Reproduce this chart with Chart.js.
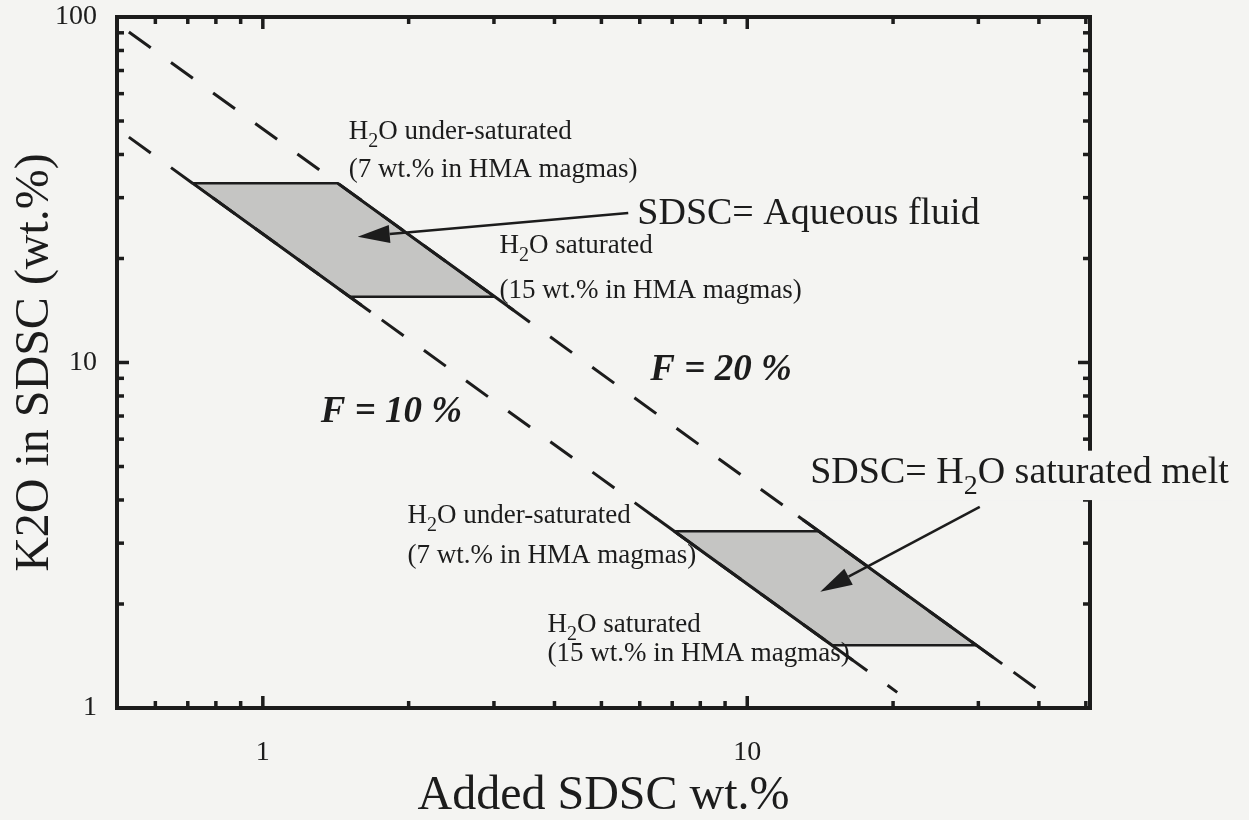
<!DOCTYPE html>
<html>
<head>
<meta charset="utf-8">
<script src="https://cdn.jsdelivr.net/npm/chart.js@4.4.1/dist/chart.umd.min.js"></script>
<style>
  html, body { margin: 0; padding: 0; background: #f4f4f2; }
  canvas { display: block; }
</style>
</head>
<body>
<canvas id="chart" width="1249" height="820"></canvas>
<script>
// axis ticks (log-log)
const xTickMarks = [0.6, 0.7, 0.8, 0.9, 1, 2, 3, 4, 5, 6, 7, 8, 9, 10, 20, 30, 40, 50];
const yTickMarks = [2, 3, 4, 5, 6, 7, 8, 9, 10, 20, 30, 40, 50, 60, 70, 80, 90];
const xTickLabels = [1, 10];
const yTickLabels = [1, 10, 100];

// F = 20 % and F = 10 % lines (end points)
const f20X = [0.529, 41.6];
const f20Y = [90.5, 1.08];
const f10X = [0.529, 20.4];
const f10Y = [44.9, 1.11];

// shaded fields: corners TL, TR, BR, BL
const aqueousX = [0.717, 1.428, 3.01, 1.511];
const aqueousY = [33.0, 33.0, 15.5, 15.5];
const meltX = [7.06, 14.04, 29.7, 14.96];
const meltY = [3.25, 3.25, 1.52, 1.52];

// solid sides of the fields (they run a bit past the corners)
const aqLeftX = [0.717, 1.670], aqLeftY = [33.0, 14.0];
const aqRightX = [1.428, 3.293], aqRightY = [33.0, 14.16];
const meltLeftX = [6.46, 16.54], meltLeftY = [3.56, 1.372];
const meltRightX = [12.74, 33.6], meltRightY = [3.59, 1.342];

const ink = '#1c1c1c';
const paper = '#f4f4f2';
const serif = "'Liberation Serif', 'Times New Roman', Times, serif";

const pts = (xs, ys) => xs.map((v, i) => ({ x: v, y: ys[i] }));
const closed = (xs, ys) => { const p = pts(xs, ys); p.push(p[0]); return p; };

function dashed(xs, ys) {
  return { data: pts(xs, ys), borderColor: ink, borderWidth: 3, borderDash: [27, 25], pointRadius: 0, fill: false, order: 2 };
}
function solid(xs, ys) {
  return { data: pts(xs, ys), borderColor: ink, borderWidth: 3, pointRadius: 0, fill: false, order: 1 };
}
function field(xs, ys) {
  return { data: closed(xs, ys), borderColor: ink, borderWidth: 2.5, backgroundColor: '#c5c5c3', pointRadius: 0, fill: 'shape', order: 3 };
}

// annotation text, anchored in data units (left edge, baseline)
const notes = [
  { parts: [['H'], ['2', 1], ['O under-saturated']], x: 1.504, y: 44.4, size: 27 },
  { parts: [['(7 wt.% in HMA magmas)']], x: 1.504, y: 34.4, size: 27 },
  { parts: [['H'], ['2', 1], ['O saturated']], x: 3.08, y: 20.7, size: 27 },
  { parts: [['(15 wt.% in HMA magmas)']], x: 3.08, y: 15.4, size: 27 },
  { parts: [['SDSC= Aqueous fluid']], x: 5.93, y: 25.2, size: 38 },
  { parts: [['SDSC= H'], ['2', 1], ['O saturated melt']], x: 13.49, y: 4.48, size: 38, box: true },
  { parts: [['H'], ['2', 1], ['O under-saturated']], x: 1.99, y: 3.43, size: 27 },
  { parts: [['(7 wt.% in HMA magmas)']], x: 1.99, y: 2.63, size: 27 },
  { parts: [['H'], ['2', 1], ['O saturated']], x: 3.87, y: 1.66, size: 27 },
  { parts: [['(15 wt.% in HMA magmas)']], x: 3.87, y: 1.37, size: 27 },
  { parts: [['F = 20 %']], x: 6.31, y: 8.9, size: 37, bold: true },
  { parts: [['F = 10 %']], x: 1.317, y: 6.73, size: 37, bold: true }
];

const arrows = [
  { from: [5.68, 27.1], to: [1.57, 23.1] },
  { from: [30.2, 3.82], to: [14.15, 2.17] }
];

const isDecade = v => Math.abs(Math.log10(v) - Math.round(Math.log10(v))) < 1e-9;

function setFont(ctx, size, sub, bold) {
  const fs = sub ? Math.round(size * 0.74) : size;
  ctx.font = (bold ? 'italic bold ' : '') + fs + 'px ' + serif;
}

function drawParts(ctx, parts, x, y, size, bold) {
  let cx = x;
  parts.forEach(([t, sub]) => {
    setFont(ctx, size, sub, bold);
    ctx.fillText(t, cx, sub ? y + size * 0.3 : y);
    cx += ctx.measureText(t).width;
  });
}

function measureParts(ctx, parts, size, bold) {
  let w = 0;
  parts.forEach(([t, sub]) => {
    setFont(ctx, size, sub, bold);
    w += ctx.measureText(t).width;
  });
  return w;
}

function drawArrow(ctx, x0, y0, x1, y1) {
  const ang = Math.atan2(y1 - y0, x1 - x0);
  const head = 32, half = 9;
  const bx = x1 - head * Math.cos(ang), by = y1 - head * Math.sin(ang);
  ctx.beginPath();
  ctx.moveTo(x0, y0);
  ctx.lineTo(bx, by);
  ctx.stroke();
  ctx.beginPath();
  ctx.moveTo(x1, y1);
  ctx.lineTo(bx - half * Math.sin(ang), by + half * Math.cos(ang));
  ctx.lineTo(bx + half * Math.sin(ang), by - half * Math.cos(ang));
  ctx.closePath();
  ctx.fill();
}

const frameAndNotes = {
  id: 'frameAndNotes',
  afterDatasetsDraw(chart) {
    const { ctx, chartArea: a, scales: { x, y } } = chart;
    ctx.save();
    ctx.strokeStyle = ink;
    ctx.fillStyle = ink;
    ctx.lineCap = 'butt';

    // frame
    ctx.lineWidth = 4;
    ctx.strokeRect(a.left, a.top, a.right - a.left, a.bottom - a.top);

    // inward ticks on all four sides
    ctx.lineWidth = 3.5;
    const seg = (x0, y0, x1, y1) => { ctx.beginPath(); ctx.moveTo(x0, y0); ctx.lineTo(x1, y1); ctx.stroke(); };
    xTickMarks.forEach(v => {
      const px = x.getPixelForValue(v);
      if (px <= a.left + 2 || px >= a.right - 2) return;
      const len = isDecade(v) ? 12 : 7;
      seg(px, a.bottom, px, a.bottom - len);
      seg(px, a.top, px, a.top + len);
    });
    yTickMarks.forEach(v => {
      const py = y.getPixelForValue(v);
      if (py <= a.top + 2 || py >= a.bottom - 2) return;
      const len = isDecade(v) ? 12 : 7;
      seg(a.left, py, a.left + len, py);
      seg(a.right, py, a.right - len, py);
    });

    // arrows
    ctx.lineWidth = 2.5;
    arrows.forEach(ar => {
      drawArrow(ctx,
        x.getPixelForValue(ar.from[0]), y.getPixelForValue(ar.from[1]),
        x.getPixelForValue(ar.to[0]), y.getPixelForValue(ar.to[1]));
    });

    // labels
    ctx.textBaseline = 'alphabetic';
    ctx.textAlign = 'left';
    notes.forEach(n => {
      const px = x.getPixelForValue(n.x), py = y.getPixelForValue(n.y);
      if (n.box) {
        const w = measureParts(ctx, n.parts, n.size, n.bold);
        ctx.fillStyle = paper;
        ctx.fillRect(px - 4, py - n.size * 0.85, w + 8, n.size * 1.3);
      }
      ctx.fillStyle = ink;
      drawParts(ctx, n.parts, px, py, n.size, n.bold);
    });
    ctx.restore();
  }
};

new Chart(document.getElementById('chart'), {
  type: 'line',
  data: {
    datasets: [
      field(aqueousX, aqueousY),
      field(meltX, meltY),
      dashed(f20X, f20Y),
      dashed(f10X, f10Y),
      solid(aqLeftX, aqLeftY),
      solid(aqRightX, aqRightY),
      solid(meltLeftX, meltLeftY),
      solid(meltRightX, meltRightY)
    ]
  },
  options: {
    responsive: false,
    animation: false,
    events: [],
    layout: { padding: { left: 0, top: 17, right: 159, bottom: 0 } },
    elements: { line: { tension: 0 } },
    plugins: { legend: { display: false }, tooltip: { enabled: false } },
    scales: {
      x: {
        type: 'logarithmic',
        min: 0.5,
        max: 51,
        grid: { display: false, drawTicks: false },
        border: { display: false },
        afterBuildTicks: axis => { axis.ticks = xTickLabels.map(v => ({ value: v })); },
        afterFit: axis => { axis.height = 112; axis.paddingLeft = 0; axis.paddingRight = 0; },
        ticks: { padding: 28, color: ink, font: { family: serif, size: 28 }, callback: v => String(v), maxRotation: 0, autoSkip: false },
        title: { display: true, text: 'Added SDSC wt.%', color: ink, font: { family: serif, size: 48, lineHeight: 1 }, padding: { top: 0, bottom: 0 } }
      },
      y: {
        type: 'logarithmic',
        min: 1,
        max: 100,
        grid: { display: false, drawTicks: false },
        border: { display: false },
        afterBuildTicks: axis => { axis.ticks = yTickLabels.map(v => ({ value: v })); },
        afterFit: axis => { axis.width = 117; axis.paddingTop = 0; axis.paddingBottom = 0; },
        ticks: { padding: 20, color: ink, font: { family: serif, size: 28 }, callback: v => String(v), autoSkip: false },
        title: { display: true, text: 'K2O in SDSC (wt.%)', color: ink, font: { family: serif, size: 48, lineHeight: 1 }, padding: { top: 11, bottom: 0 } }
      }
    }
  },
  plugins: [frameAndNotes]
});
</script>
</body>
</html>
